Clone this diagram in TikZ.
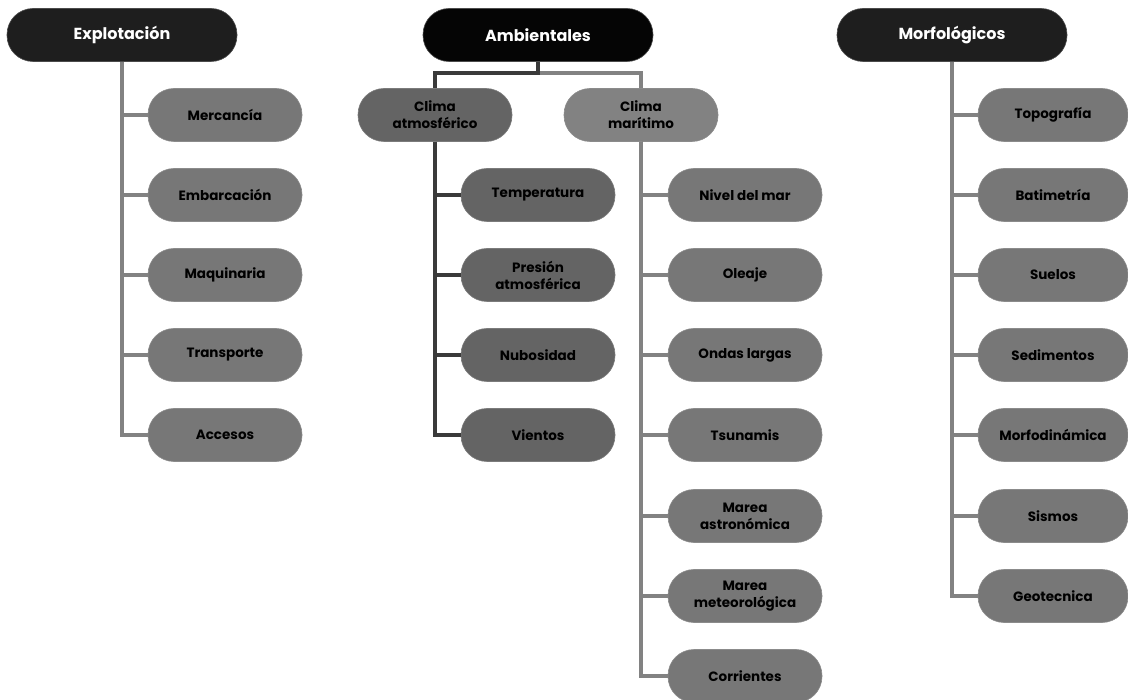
\documentclass[tikz,border=0pt]{standalone}
\usepackage{fontspec}
\setmainfont{Poppins}
\definecolor{hdr}{HTML}{1E1E1E}
\definecolor{hdrb}{HTML}{050505}
\definecolor{midg}{HTML}{777777}
\definecolor{darkg}{HTML}{646464}
\definecolor{lineg}{HTML}{828282}
\definecolor{lined}{HTML}{3A3A3A}
\tikzset{
  header/.style={rectangle, rounded corners=26pt, fill=hdr, draw=hdr!80!white, line width=0.6pt,
    minimum width=230pt, minimum height=53pt, text=white, font=\fontsize{16}{19}\selectfont\bfseries, inner sep=0pt},
  leaf/.style={rectangle, rounded corners=26pt, fill=midg, draw=midg!85!white, line width=0.6pt,
    minimum width=154pt, minimum height=53pt, text=black, align=center,
    font=\fontsize{13.5}{17}\selectfont\bfseries, inner sep=0pt},
  dleaf/.style={leaf, fill=darkg, draw=darkg!85!white},
  conn/.style={draw=lineg, line width=3.6pt},
  dconn/.style={draw=lined, line width=3.6pt}
}
\begin{document}
\begin{tikzpicture}[x=1pt,y=-1pt]
\useasboundingbox (0,0) rectangle (1128,700);
% connectors first (behind nodes)
\coordinate (exs) at (122,61);
\coordinate (ambs) at (538,61);
\coordinate (mors) at (952,61);
\coordinate (aj) at (538,73);
% headers
\node[header] (ex) at (122,35) {Explotación};
\node[header, fill=hdrb] (amb) at (538,35) {Ambientales};
\node[header] (mor) at (952,35) {Morfológicos};
% Explotación children
\node[leaf] (e1) at (225,115) {Mercancía};
\node[leaf] (e2) at (225,195) {Embarcación};
\node[leaf] (e3) at (225,275) {Maquinaria};
\node[leaf] (e4) at (225,355) {Transporte};
\node[leaf] (e5) at (225,435) {Accesos};
% Ambientales second level
\node[dleaf] (ca) at (435,115) {Clima\\atmosférico};
\node[leaf, fill=lineg] (cm) at (641,115) {Clima\\marítimo};
% Clima atmosférico children
\node[dleaf] (a1) at (538,195) {Temperatura};
\node[dleaf] (a2) at (538,275) {Presión\\atmosférica};
\node[dleaf] (a3) at (538,355) {Nubosidad};
\node[dleaf] (a4) at (538,435) {Vientos};
% Clima marítimo children
\node[leaf] (m1) at (745,195) {Nivel del mar};
\node[leaf] (m2) at (745,275) {Oleaje};
\node[leaf] (m3) at (745,355) {Ondas largas};
\node[leaf] (m4) at (745,435) {Tsunamis};
\node[leaf] (m5) at (745,516) {Marea\\astronómica};
\node[leaf] (m6) at (745,596) {Marea\\meteorológica};
\node[leaf] (m7) at (745,676) {Corrientes};
% Morfológicos children
\node[leaf, minimum width=150pt] (f1) at (1053,115) {Topografía};
\node[leaf, minimum width=150pt] (f2) at (1053,195) {Batimetría};
\node[leaf, minimum width=150pt] (f3) at (1053,275) {Suelos};
\node[leaf, minimum width=150pt] (f4) at (1053,355) {Sedimentos};
\node[leaf, minimum width=150pt] (f5) at (1053,435) {Morfodinámica};
\node[leaf, minimum width=150pt] (f6) at (1053,516) {Sismos};
\node[leaf, minimum width=150pt] (f7) at (1053,596) {Geotecnica};
% connectors
\foreach \c in {e1,e2,e3,e4,e5} \draw[conn] (ex.south) |- (\c.west);
\foreach \c in {m1,m2,m3,m4,m5,m6,m7} \draw[conn] (cm.south) |- (\c.west);
\foreach \c in {f1,f2,f3,f4,f5,f6,f7} \draw[conn] (mor.south) |- (\c.west);
\foreach \c in {a1,a2,a3,a4} \draw[dconn] (ca.south) |- (\c.west);
\draw[conn] (aj) -| (cm.north);
\draw[dconn] (amb.south) -- (aj) -| (ca.north);
\end{tikzpicture}
\end{document}
